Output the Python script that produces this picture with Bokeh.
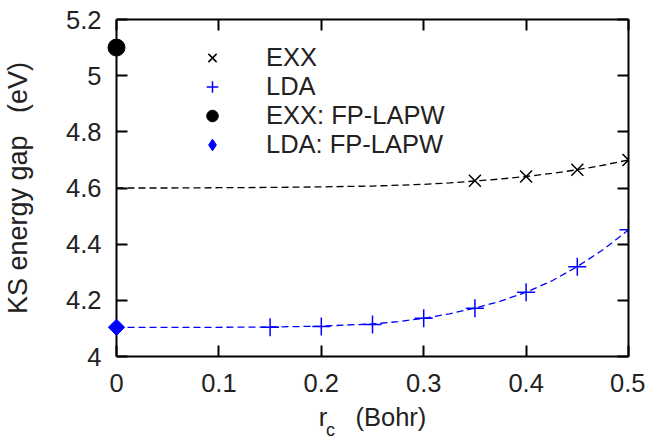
from bokeh.plotting import figure
from bokeh.models import Range1d, LinearAxis, Legend, LegendItem, Label, FixedTicker
from bokeh.embed import file_html
from bokeh.resources import INLINE
import math

# ---- data ----
exx_rc = [0.35, 0.40, 0.45, 0.50]
exx_gap = [4.626, 4.641, 4.665, 4.700]
lda_rc = [0.15, 0.20, 0.25, 0.30, 0.35, 0.40, 0.45, 0.50]
lda_gap = [4.104, 4.107, 4.114, 4.136, 4.172, 4.229, 4.320, 4.451]
exx_fit_rc = [0.0, 0.05, 0.10, 0.15, 0.20, 0.25, 0.30, 0.325, 0.35, 0.375, 0.40, 0.425, 0.45, 0.475, 0.50]
exx_fit_gap = [4.600, 4.600, 4.601, 4.602, 4.604, 4.607, 4.613, 4.618, 4.625, 4.632, 4.641, 4.652, 4.665, 4.681, 4.700]
lda_fit_rc = [0.0, 0.05, 0.10, 0.15, 0.20, 0.25, 0.275, 0.30, 0.325, 0.35, 0.375, 0.40, 0.425, 0.45, 0.475, 0.50]
lda_fit_gap = [4.104, 4.104, 4.104, 4.105, 4.108, 4.116, 4.124, 4.136, 4.152, 4.172, 4.197, 4.229, 4.269, 4.320, 4.380, 4.451]
lapw_exx_rc = [0.0]
lapw_exx_gap = [5.10]
lapw_lda_rc = [0.0]
lapw_lda_gap = [4.104]
x_ticks = [0, 0.1, 0.2, 0.3, 0.4, 0.5]
y_ticks = [4.0, 4.2, 4.4, 4.6, 4.8, 5.0, 5.2]
x_tick_labels = {0: "0", 0.1: "0.1", 0.2: "0.2", 0.3: "0.3", 0.4: "0.4", 0.5: "0.5"}
y_tick_labels = {4.0: "4", 4.2: "4.2", 4.4: "4.4", 4.6: "4.6", 4.8: "4.8", 5.0: "5", 5.2: "5.2"}

FONT = "Liberation Sans"
TXT = "#222222"
BLUE = "#0000ff"
FS = "25.5px"

p = figure(width=645, height=438, output_backend="svg", toolbar_location=None,
           x_range=Range1d(0, 0.5), y_range=Range1d(4.0, 5.2),
           min_border_left=116, min_border_right=17, min_border_top=19, min_border_bottom=82)
p.grid.visible = False
p.outline_line_color = None
p.background_fill_color = "white"

def style_axis(ax, ticks, labels, show):
    ax.ticker = FixedTicker(ticks=ticks)
    ax.axis_line_width = 2
    ax.axis_line_color = "black"
    ax.major_tick_line_width = 2
    ax.major_tick_line_color = "black"
    ax.major_tick_in = 11
    ax.major_tick_out = 0
    ax.minor_tick_line_color = None
    ax.major_label_text_font = FONT
    if show:
        ax.major_label_overrides = labels
        ax.major_label_text_color = TXT
        ax.major_label_text_font_size = FS
    else:
        ax.major_label_text_color = None
        ax.major_label_text_font_size = "1px"
        ax.major_label_standoff = 0

xa = p.xaxis[0]
ya = p.yaxis[0]
style_axis(xa, x_ticks, x_tick_labels, True)
style_axis(ya, y_ticks, y_tick_labels, True)
xa.major_label_standoff = 17
xa.axis_label = "r\u00a0\u00a0\u00a0\u00a0(Bohr)"
xa.axis_label_text_font = FONT
xa.axis_label_text_font_size = FS
xa.axis_label_text_font_style = "normal"
xa.axis_label_text_color = TXT
xa.axis_label_standoff = 8
ya.major_label_standoff = 15
ya.axis_label = "KS energy gap\u00a0\u00a0\u00a0(eV)"
ya.axis_label_text_font = FONT
ya.axis_label_text_font_size = "27px"
ya.axis_label_text_font_style = "normal"
ya.axis_label_text_color = TXT
ya.axis_label_standoff = 30

top = LinearAxis()
right = LinearAxis()
style_axis(top, x_ticks, {}, False)
style_axis(right, y_ticks, {}, False)
p.add_layout(top, "above")
p.add_layout(right, "right")

# fit curves
p.line(exx_fit_rc, exx_fit_gap, line_color="black", line_width=1.3, line_dash="7 4")
p.line(lda_fit_rc, lda_fit_gap, line_color=BLUE, line_width=1.3, line_dash="7 4")

r_exx = p.scatter(exx_rc, exx_gap, marker="x", size=17, line_color="black", line_width=1.5)
r_lda = p.scatter(lda_rc, lda_gap, marker="cross", size=18, line_color=BLUE, line_width=1.5)
r_lapw_exx = p.scatter(lapw_exx_rc, lapw_exx_gap, marker="circle", size=17, fill_color="black",
                       line_color="black", level="overlay")
r_lapw_lda = p.scatter(lapw_lda_rc, lapw_lda_gap, marker="square", size=11.5, angle=math.pi / 4,
                       fill_color=BLUE, line_color=BLUE, level="overlay")
# same point drawn as a diamond only for the legend key
r_lapw_lda_key = p.scatter(lapw_lda_rc, lapw_lda_gap, marker="diamond", size=16,
                           fill_color=BLUE, line_color=BLUE, visible=False)

legend = Legend(items=[
    LegendItem(label="EXX", renderers=[r_exx]),
    LegendItem(label="LDA", renderers=[r_lda]),
    LegendItem(label="EXX: FP-LAPW", renderers=[r_lapw_exx]),
    LegendItem(label="LDA: FP-LAPW", renderers=[r_lapw_lda_key]),
], location=(81, 197), orientation="vertical")
legend.glyph_width = 30
legend.glyph_height = 29
legend.label_height = 29
legend.spacing = 0
legend.padding = 0
legend.margin = 0
legend.label_standoff = 39
legend.border_line_color = None
legend.background_fill_alpha = 0
legend.label_text_font = FONT
legend.label_text_font_size = FS
legend.label_text_color = TXT
p.add_layout(legend, "center")

# subscript "c" of r_c (kept in the narrow right panel so it is not clipped to the frame)
p.add_layout(Label(x=0.2045, y=3.737, text="c", text_font=FONT, text_font_size="18px",
                   text_color=TXT, text_baseline="alphabetic", text_align="left"), "right")

open("out.html", "w").write(file_html(p, INLINE))
